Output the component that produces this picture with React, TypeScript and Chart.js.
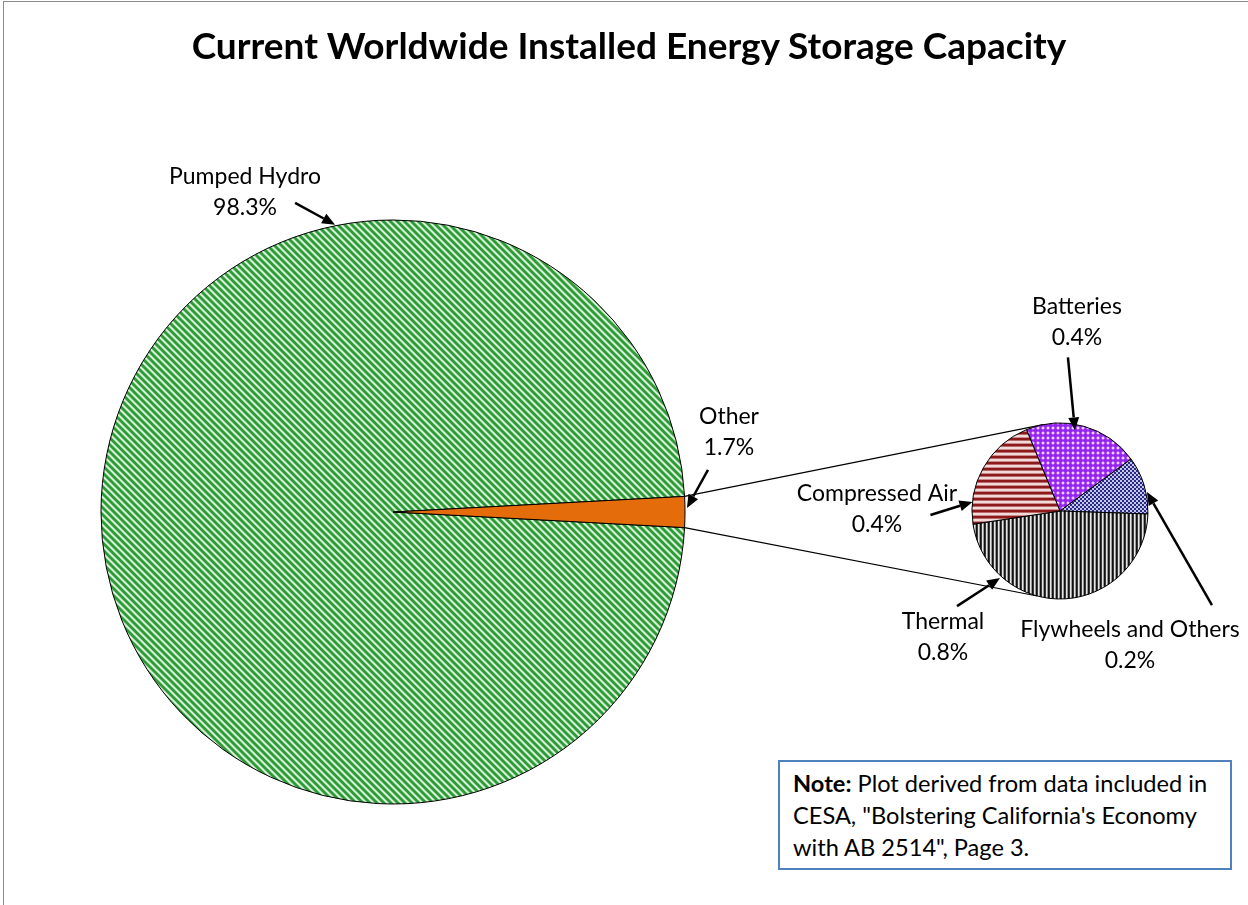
import React, { useEffect, useRef } from 'react';
import { Chart, registerables } from 'chart.js';
Chart.register(...registerables);

// ---------- data ----------
const TITLE = 'Current Worldwide Installed Energy Storage Capacity';
const mainLabels = ['Pumped Hydro', 'Other'];
const mainValues = [98.3, 1.7];
const subLabels = ['Batteries', 'Flywheels and Others', 'Thermal', 'Compressed Air'];
const subValues = [0.36, 0.18, 0.8, 0.36];
const NOTE_BOLD = 'Note:';
const NOTE_LINES = [
  ' Plot derived from data included in',
  'CESA, "Bolstering California\'s Economy',
  'with AB 2514", Page 3.',
];

// ---------- layout ----------
const W = 1248;
const H = 905;
const MAIN = { cx: 393, cy: 512, r: 292 };
const SUB = { cx: 1060, cy: 511, r: 88 };
// callouts: tip on circle at angle (deg) and radius offset; tail relative to tip; text centre relative to pie centre
const mainCallouts = [
  { angle: -101.4, dr: 1, tail: [-40, -22], text: [-148, -335] },
  { angle: -0.8, dr: 2, tail: [21, -38], text: [336, -95] },
];
const subCallouts = [
  { angle: -79.5, dr: -6, tail: [-7, -73], text: [17, -204] },
  { angle: -12.3, dr: 1, tail: [65, 113], text: [70, 119] },
  { angle: 131.8, dr: 2, tail: [-43, 28], text: [-117, 111] },
  { angle: -174.1, dr: 0, tail: [-42, 13], text: [-183, -17] },
];
const CONNECT_ANGLES = [-101, 105];
const LABEL_FONT = '23px Lato';
const LINE_GAP = 31;

function makePattern(w: number, h: number, pix: (x: number, y: number) => string): CanvasPattern {
  const c = document.createElement('canvas');
  c.width = w;
  c.height = h;
  const g = c.getContext('2d')!;
  for (let y = 0; y < h; y++) {
    for (let x = 0; x < w; x++) {
      g.fillStyle = pix(x, y);
      g.fillRect(x, y, 1, 1);
    }
  }
  return g.createPattern(c, 'repeat')!;
}

function drawArrow(ctx: CanvasRenderingContext2D, x0: number, y0: number, x1: number, y1: number) {
  const ang = Math.atan2(y1 - y0, x1 - x0);
  const hl = 13;
  const hw = 5.5;
  const bx = x1 - hl * Math.cos(ang);
  const by = y1 - hl * Math.sin(ang);
  ctx.save();
  ctx.strokeStyle = '#000';
  ctx.fillStyle = '#000';
  ctx.lineWidth = 2.5;
  ctx.beginPath();
  ctx.moveTo(x0, y0);
  ctx.lineTo(bx, by);
  ctx.stroke();
  ctx.beginPath();
  ctx.moveTo(x1, y1);
  ctx.lineTo(bx - hw * Math.sin(ang), by + hw * Math.cos(ang));
  ctx.lineTo(bx + hw * Math.sin(ang), by - hw * Math.cos(ang));
  ctx.closePath();
  ctx.fill();
  ctx.restore();
}

function drawCallouts(chart: any, labels: string[], values: number[], callouts: any[]) {
  const ctx: CanvasRenderingContext2D = chart.ctx;
  const meta = chart.getDatasetMeta(0);
  const arc = meta.data[0].getProps(['x', 'y', 'outerRadius'], true);
  labels.forEach((lab, i) => {
    const c = callouts[i];
    const a = (c.angle * Math.PI) / 180;
    const rr = arc.outerRadius + c.dr;
    const tx = arc.x + rr * Math.cos(a);
    const ty = arc.y + rr * Math.sin(a);
    drawArrow(ctx, tx + c.tail[0], ty + c.tail[1], tx, ty);
    ctx.save();
    ctx.font = LABEL_FONT;
    ctx.fillStyle = '#000';
    ctx.textAlign = 'center';
    ctx.textBaseline = 'middle';
    const px = arc.x + c.text[0];
    const py = arc.y + c.text[1];
    ctx.fillText(lab, px, py);
    ctx.fillText(values[i].toFixed(1) + '%', px, py + LINE_GAP);
    ctx.restore();
  });
}

export default function App() {
  const mainRef = useRef<HTMLCanvasElement>(null);
  const subRef = useRef<HTMLCanvasElement>(null);

  useEffect(() => {
    const green = makePattern(7, 7, (x, y) => {
      const d = (((x - y) % 7) + 7) % 7;
      return d < 3 ? '#2F9A3A' : d === 3 || d === 6 ? '#80C683' : '#D6EFD6';
    });
    const red = makePattern(1, 6, (_x, y) =>
      y < 2 ? '#8C1A1A' : y === 2 ? '#B86A6A' : y < 5 ? '#F2DADA' : '#C88A8A'
    );
    const purple = makePattern(5, 5, (x, y) => {
      if ((x === 2 || x === 3) && (y === 2 || y === 3)) return '#F0CCFF';
      if ((x === 1 || x === 4) && (y === 2 || y === 3)) return '#B45CF6';
      if ((y === 1 || y === 4) && (x === 2 || x === 3)) return '#B45CF6';
      return '#9325EE';
    });
    const blue = makePattern(4, 4, (x, y) => (((x >> 1) + (y >> 1)) & 1 ? '#2A2A88' : '#C4C6E6'));
    const thermal = makePattern(4, 1, (x) => ['#111111', '#3A3A3A', '#E6E6E6', '#999999'][x]);

    const mainTotal = mainValues.reduce((a, b) => a + b, 0);
    const mainRotation = 90 + ((mainValues[1] / mainTotal) * 360) / 2;

    const mainChart = new Chart(mainRef.current!, {
      type: 'pie',
      data: {
        labels: mainLabels,
        datasets: [
          {
            data: mainValues,
            backgroundColor: [green, '#E46C0A'],
            borderColor: '#000',
            borderWidth: 1,
          },
        ],
      },
      options: {
        responsive: false,
        animation: false,
        rotation: mainRotation,
        radius: MAIN.r,
        layout: {
          padding: { left: MAIN.cx - 300, right: W - MAIN.cx - 300, top: MAIN.cy - 300, bottom: H - MAIN.cy - 300 },
        },
        plugins: { legend: { display: false }, tooltip: { enabled: false }, title: { display: false } },
      },
      plugins: [
        {
          id: 'mainCallouts',
          afterDatasetsDraw(chart: any) {
            drawCallouts(chart, mainLabels, mainValues, mainCallouts);
          },
        },
      ],
    } as any);

    const subChart = new Chart(subRef.current!, {
      type: 'pie',
      data: {
        labels: subLabels,
        datasets: [
          {
            data: subValues,
            backgroundColor: [purple, blue, thermal, red],
            borderColor: '#000',
            borderWidth: 1,
          },
        ],
      },
      options: {
        responsive: false,
        animation: false,
        rotation: -22.4,
        radius: SUB.r,
        layout: {
          padding: { left: SUB.cx - 100, right: W - SUB.cx - 100, top: SUB.cy - 100, bottom: H - SUB.cy - 100 },
        },
        plugins: { legend: { display: false }, tooltip: { enabled: false }, title: { display: false } },
      },
      plugins: [
        {
          id: 'connectors',
          beforeDatasetsDraw(chart: any) {
            const ctx: CanvasRenderingContext2D = chart.ctx;
            const other = mainChart.getDatasetMeta(0).data[1] as any;
            const o = other.getProps(['x', 'y', 'startAngle', 'endAngle', 'outerRadius'], true);
            const s = (chart.getDatasetMeta(0).data[0] as any).getProps(['x', 'y', 'outerRadius'], true);
            const from = [o.startAngle, o.endAngle];
            ctx.save();
            ctx.strokeStyle = '#000';
            ctx.lineWidth = 1.2;
            from.forEach((fa: number, i: number) => {
              const ta = (CONNECT_ANGLES[i] * Math.PI) / 180;
              ctx.beginPath();
              ctx.moveTo(o.x + o.outerRadius * Math.cos(fa), o.y + o.outerRadius * Math.sin(fa));
              ctx.lineTo(s.x + s.outerRadius * Math.cos(ta), s.y + s.outerRadius * Math.sin(ta));
              ctx.stroke();
            });
            ctx.restore();
          },
          afterDatasetsDraw(chart: any) {
            drawCallouts(chart, subLabels, subValues, subCallouts);
          },
        },
      ],
    } as any);

    return () => {
      subChart.destroy();
      mainChart.destroy();
    };
  }, []);

  const canvasStyle: React.CSSProperties = { position: 'absolute', left: 0, top: 0 };

  return (
    <div
      style={{
        position: 'absolute',
        left: 0,
        top: 0,
        width: W,
        height: H,
        overflow: 'hidden',
        background: '#fff',
      }}
    >
      <div
        style={{
          position: 'absolute',
          left: 3,
          top: 1,
          width: W + 50,
          height: H + 50,
          border: '1px solid #8c8c8c',
        }}
      />
      <canvas ref={mainRef} width={W} height={H} style={canvasStyle} />
      <canvas ref={subRef} width={W} height={H} style={canvasStyle} />
      <div
        style={{
          position: 'absolute',
          left: 29,
          top: 23,
          width: 1200,
          textAlign: 'center',
          fontFamily: 'Lato, sans-serif',
          fontWeight: 700,
          fontSize: 37,
          lineHeight: '44px',
          color: '#000',
          whiteSpace: 'nowrap',
        }}
      >
        {TITLE}
      </div>
      <div
        style={{
          position: 'absolute',
          left: 778,
          top: 760,
          width: 454,
          height: 110,
          border: '2px solid #4F81BD',
          background: '#fff',
          padding: '5px 0 0 13px',
          boxSizing: 'border-box',
          fontFamily: 'Lato, sans-serif',
          fontSize: 23.6,
          lineHeight: '32px',
          color: '#000',
          whiteSpace: 'nowrap',
        }}
      >
        <div>
          <b>{NOTE_BOLD}</b>
          {NOTE_LINES[0]}
        </div>
        <div>{NOTE_LINES[1]}</div>
        <div>{NOTE_LINES[2]}</div>
      </div>
    </div>
  );
}
